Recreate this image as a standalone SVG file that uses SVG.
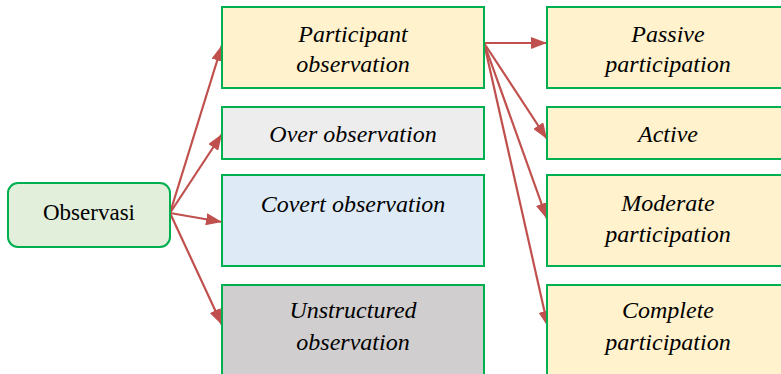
<svg xmlns="http://www.w3.org/2000/svg" width="781" height="374" viewBox="0 0 781 374">
  <defs>
    <marker id="arrow" viewBox="0 0 16 12" refX="16" refY="6" markerWidth="16" markerHeight="12" markerUnits="userSpaceOnUse" orient="auto">
      <path d="M0,0 L16,6 L0,12 Z" fill="#c0504d"/>
    </marker>
  </defs>
  <style>
    .box { stroke: #00b050; stroke-width: 2; }
    .yellow { fill: #fff2cc; }
    .grey { fill: #ededed; }
    .blue { fill: #deebf7; }
    .dark { fill: #d0cece; }
    .green { fill: #e2efda; }
    text { font-family: 'Liberation Serif', Tinos, 'DejaVu Serif', serif; fill: #000; text-anchor: middle; }
    .lbl { font-style: italic; font-size: 24px; }
    .root { font-size: 23px; }
    .edge { stroke: #c0504d; stroke-width: 2.2; fill: none; marker-end: url(#arrow); }
  </style>

  <g id="connectors">
    <line class="edge" x1="170" y1="213" x2="222" y2="45"/>
    <line class="edge" x1="170" y1="213" x2="222" y2="134"/>
    <line class="edge" x1="170" y1="213" x2="222" y2="222"/>
    <line class="edge" x1="170" y1="213" x2="222" y2="325"/>
    <line class="edge" x1="484" y1="43" x2="547" y2="43"/>
    <line class="edge" x1="484" y1="43" x2="547" y2="139"/>
    <line class="edge" x1="484" y1="43" x2="547" y2="219"/>
    <line class="edge" x1="484" y1="43" x2="548" y2="327"/>
  </g>

  <g id="observasi">
    <rect class="box green" x="8" y="183" width="162" height="64" rx="10"/>
    <text class="root" x="89" y="220" font-family="Liberation Serif, serif">Observasi</text>
  </g>

  <g id="participant-observation">
    <rect class="box yellow" x="222" y="7" width="262" height="81"/>
    <text class="lbl" x="353" y="42">Participant</text>
    <text class="lbl" x="353" y="72">observation</text>
  </g>

  <g id="over-observation">
    <rect class="box grey" x="222" y="107" width="262" height="52"/>
    <text class="lbl" x="353" y="142">Over observation</text>
  </g>

  <g id="covert-observation">
    <rect class="box blue" x="222" y="175" width="262" height="91"/>
    <text class="lbl" x="353" y="212">Covert observation</text>
  </g>

  <g id="unstructured-observation">
    <rect class="box dark" x="222" y="285" width="262" height="100"/>
    <text class="lbl" x="353" y="318">Unstructured</text>
    <text class="lbl" x="353" y="350">observation</text>
  </g>

  <g id="passive-participation">
    <rect class="box yellow" x="547" y="7" width="250" height="81"/>
    <text class="lbl" x="668" y="42">Passive</text>
    <text class="lbl" x="668" y="72">participation</text>
  </g>

  <g id="active">
    <rect class="box yellow" x="547" y="107" width="250" height="52"/>
    <text class="lbl" x="668" y="142">Active</text>
  </g>

  <g id="moderate-participation">
    <rect class="box yellow" x="547" y="175" width="250" height="91"/>
    <text class="lbl" x="668" y="211">Moderate</text>
    <text class="lbl" x="668" y="242">participation</text>
  </g>

  <g id="complete-participation">
    <rect class="box yellow" x="547" y="285" width="250" height="100"/>
    <text class="lbl" x="668" y="318">Complete</text>
    <text class="lbl" x="668" y="350">participation</text>
  </g>
</svg>
